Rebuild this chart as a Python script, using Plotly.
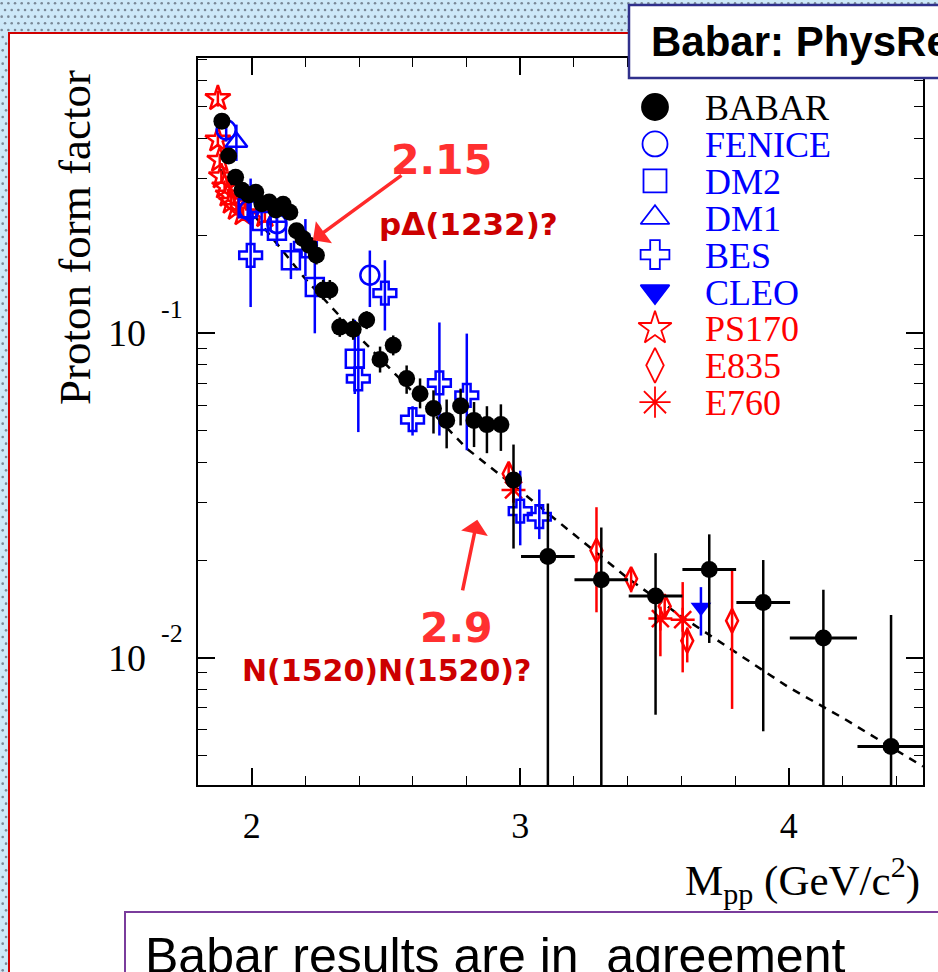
import numpy as np
import plotly.graph_objects as go

W, H = 938, 972

# ---------------- data: proton time-like form factor vs M(p pbar) ----------------
babar_m = [1.889, 1.914, 1.940, 1.964, 1.989, 2.015, 2.038, 2.065, 2.090, 2.117, 2.142, 2.167,
           2.191, 2.214, 2.241, 2.266, 2.291, 2.328, 2.378, 2.428, 2.478, 2.527, 2.577, 2.627,
           2.677, 2.726, 2.778, 2.828, 2.876, 2.928, 2.975, 3.103, 3.302, 3.504, 3.704, 3.905,
           4.129, 4.381]
babar_ff = [0.451, 0.352, 0.303, 0.276, 0.267, 0.272, 0.251, 0.254, 0.240, 0.250, 0.236, 0.207,
            0.196, 0.187, 0.174, 0.136, 0.136, 0.1045, 0.103, 0.110, 0.083, 0.0918, 0.0725, 0.0651,
            0.0586, 0.0539, 0.0597, 0.0539, 0.0523, 0.0523, 0.0353, 0.0205, 0.0174, 0.0155, 0.0187,
            0.0148, 0.0115, 0.00532]
babar_hi = [0.468, 0.365, 0.314, 0.286, 0.277, 0.283, 0.262, 0.265, 0.251, 0.262, 0.248, 0.218,
            0.207, 0.198, 0.185, 0.146, 0.146, 0.112, 0.111, 0.117, 0.091, 0.0985, 0.0796, 0.0726,
            0.0667, 0.0625, 0.0675, 0.0614, 0.0596, 0.0604, 0.0454, 0.0299, 0.0252, 0.0210, 0.0240,
            0.0200, 0.0162, 0.01355]
babar_lo = [0.435, 0.339, 0.292, 0.266, 0.257, 0.261, 0.240, 0.243, 0.229, 0.238, 0.224, 0.196,
            0.185, 0.176, 0.163, 0.127, 0.127, 0.0975, 0.0955, 0.103, 0.0757, 0.0855, 0.0651, 0.0587,
            0.0491, 0.0442, 0.0520, 0.0446, 0.0427, 0.0434, 0.0217, 0.0, 0.0, 0.00667, 0.0111,
            0.00593, 0.0, 0.0]
babar_halfbin = [0.0] * 31 + [0.1, 0.1, 0.1, 0.1, 0.1, 0.125, 0.125]

fenice_m = [1.905, 1.990, 2.094, 2.440]
fenice_ff = [0.424, 0.240, 0.218, 0.151]
fenice_hi = [0.460, 0.262, 0.240, 0.180]
fenice_lo = [0.390, 0.218, 0.196, 0.1205]

dm2_m = [1.985, 2.037, 2.094, 2.146, 2.235, 2.384]
dm2_ff = [0.243, 0.222, 0.207, 0.168, 0.139, 0.0835]
dm2_hi = [0.265, 0.243, 0.228, 0.190, 0.194, 0.110]
dm2_lo = [0.221, 0.200, 0.186, 0.147, 0.100, 0.065]

dm1_m = [1.943]
dm1_ff = [0.389]
dm1_hi = [0.440]
dm1_lo = [0.340]

bes_m = [1.996, 2.200, 2.397, 2.496, 2.599, 2.699, 2.801, 3.000, 3.071]
bes_ff = [0.174, 0.186, 0.0724, 0.133, 0.0542, 0.0703, 0.0644, 0.0283, 0.0272]
bes_hi = [0.300, 0.225, 0.100, 0.168, 0.0596, 0.108, 0.0998, 0.0377, 0.0330]
bes_lo = [0.1205, 0.150, 0.0496, 0.102, 0.0484, 0.0484, 0.0436, 0.0222, 0.0232]

cleo_m = [3.673]
cleo_ff = [0.0143]
cleo_hi = [0.0165]
cleo_lo = [0.0117]

ps170_m = [1.874, 1.874, 1.881, 1.887, 1.899, 1.912, 1.924, 1.943, 1.968, 2.049]
ps170_ff = [0.530, 0.395, 0.342, 0.304, 0.283, 0.267, 0.254, 0.243, 0.234, 0.231]
ps170_hi = [0.560, 0.415, 0.358, 0.318, 0.296, 0.279, 0.266, 0.255, 0.246, 0.243]
ps170_lo = [0.500, 0.375, 0.326, 0.290, 0.270, 0.255, 0.242, 0.231, 0.222, 0.219]

e835_m = [2.957, 3.284, 3.413, 3.538, 3.622, 3.789]
e835_ff = [0.0369, 0.0214, 0.0175, 0.0144, 0.01127, 0.0130]
e835_hi = [0.0395, 0.0291, 0.0188, 0.0153, 0.0124, 0.0188]
e835_lo = [0.0340, 0.0138, 0.0159, 0.0135, 0.00967, 0.00695]

e760_m = [2.975, 3.522, 3.605]
e760_ff = [0.0329, 0.0132, 0.0131]
e760_hi = [0.0360, 0.0143, 0.0171]
e760_lo = [0.0300, 0.0101, 0.00901]

# pQCD-type fit curve (dashed), sampled along the drawn line
fit_m = [1.88, 2.0, 2.2, 2.4, 2.6, 2.8, 3.0, 3.2, 3.4, 3.6, 3.8, 4.0, 4.2, 4.4, 4.5]
fit_ff = [0.322, 0.236, 0.147, 0.0975, 0.0659, 0.0442, 0.0327, 0.0240, 0.0176, 0.0134,
          0.0104, 0.0081, 0.00653, 0.00519, 0.00462]

legend_names = ["BABAR", "FENICE", "DM2", "DM1", "BES", "CLEO", "PS170", "E835", "E760"]

x_tick_labels = ["2", "3", "4"]
y_tick_exponents = ["-1", "-2"]

# ---------------- styling ----------------
BLUE = "#0000ff"
RED = "#ff0000"
BLACK = "#000000"
SERIF = "Liberation Serif"


def px(x):
    return x / W


def py(y):
    return 1 - y / H


def err(vals, hi, lo):
    plus = [h - v for v, h in zip(vals, hi)]
    minus = [v - l for v, l in zip(vals, lo)]
    return plus, minus


fig = go.Figure()

# dashed fit
fig.add_trace(go.Scatter(x=fit_m, y=fit_ff, mode="lines",
                         line=dict(color=BLACK, width=2.5, dash="8px,7px"),
                         hoverinfo="skip"))


def add_set(m, ff, hi, lo, symbol, color, size, lw=2.5, xerr=None):
    plus, minus = err(ff, hi, lo)
    kw = {}
    if xerr is not None:
        kw["error_x"] = dict(type="data", array=xerr, symmetric=True, color=color,
                             thickness=3, width=0)
    fig.add_trace(go.Scatter(
        x=m, y=ff, mode="markers",
        marker=dict(symbol=symbol, color=color, size=size, opacity=1,
                    line=dict(width=lw, color=color)),
        error_y=dict(type="data", array=plus, arrayminus=minus, symmetric=False,
                     color=color, thickness=2.5, width=0),
        **kw))


add_set(ps170_m, ps170_ff, ps170_hi, ps170_lo, "star-open", RED, 19)
add_set(e835_m, e835_ff, e835_hi, e835_lo, "diamond-tall-open", RED, 17)
add_set(e760_m, e760_ff, e760_hi, e760_lo, "asterisk-open", RED, 20)
add_set(fenice_m, fenice_ff, fenice_hi, fenice_lo, "circle-open", BLUE, 19)
add_set(dm2_m, dm2_ff, dm2_hi, dm2_lo, "square-open", BLUE, 18)
add_set(dm1_m, dm1_ff, dm1_hi, dm1_lo, "triangle-up-open", BLUE, 19)
add_set(bes_m, bes_ff, bes_hi, bes_lo, "cross-open", BLUE, 19)
add_set(cleo_m, cleo_ff, cleo_hi, cleo_lo, "triangle-down", BLUE, 18, lw=0)
add_set(babar_m, babar_ff, babar_hi, babar_lo, "circle", BLACK, 17, lw=0, xerr=babar_halfbin)

# ---------------- page decoration on a pixel-space overlay axis ----------------
step = 20 / 3
dot_x, dot_y = [], []
for r, yy in enumerate(np.arange(3.3, 33, step)):
    off = 0 if r % 2 == 0 else step / 2
    for xx in np.arange(1.7 + off, W, step):
        dot_x.append(xx)
        dot_y.append(yy)
for r, yy in enumerate(np.arange(37.0, H, step)):
    off = 0 if r % 2 == 0 else step / 2
    for xx in np.arange(2.7 + off, 8, step):
        dot_x.append(xx)
        dot_y.append(yy)
fig.add_trace(go.Scatter(x=dot_x, y=dot_y, mode="markers", xaxis="x2", yaxis="y2",
                         marker=dict(size=2.6, color="#7a8896", opacity=1), hoverinfo="skip",
                         cliponaxis=False))

# legend keys
leg_x0, leg_y0, leg_dy = 655, 107, 36.9
leg_sym = ["circle", "circle-open", "square-open", "triangle-up-open", "cross-open",
           "triangle-down", "star-open", "diamond-tall-open", "asterisk-open"]
leg_col = [BLACK, BLUE, BLUE, BLUE, BLUE, BLUE, RED, RED, RED]
leg_size = [26, 25, 23, 25, 24, 25, 25, 25, 26]
leg_rows = [leg_y0 + i * leg_dy for i in range(len(legend_names))]
fig.add_trace(go.Scatter(x=[leg_x0] * len(leg_rows), y=leg_rows, mode="markers",
                         xaxis="x2", yaxis="y2",
                         marker=dict(symbol=leg_sym, color=leg_col, size=leg_size, opacity=1,
                                     line=dict(width=1.8, color=leg_col)),
                         hoverinfo="skip", cliponaxis=False))

annotations = []
for name, col, yy in zip(legend_names, leg_col, leg_rows):
    annotations.append(dict(text=name, xref="paper", yref="paper", x=px(703), y=py(yy + 1),
                            xanchor="left", yanchor="middle", showarrow=False,
                            font=dict(family=SERIF, size=36, color=col)))

# y tick labels 10^-1, 10^-2
for e, lab in zip([-1, -2], y_tick_exponents):
    annotations.append(dict(text="10", xref="paper", yref="y", x=px(148), y=e,
                            xanchor="right", yanchor="middle", showarrow=False,
                            font=dict(family=SERIF, size=38, color=BLACK)))
    annotations.append(dict(text=lab, xref="paper", yref="y", x=px(159), y=e, yshift=24,
                            xanchor="left", yanchor="middle", showarrow=False,
                            font=dict(family=SERIF, size=26, color=BLACK)))

# axis titles
annotations.append(dict(text="Proton form factor", xref="paper", yref="paper",
                        x=px(75), y=py(238), textangle=-90, showarrow=False,
                        xanchor="center", yanchor="middle",
                        font=dict(family=SERIF, size=45, color=BLACK)))
annotations.append(dict(text="M<sub>pp</sub> (GeV/c<sup>2</sup>)", xref="paper", yref="paper",
                        x=px(922), y=py(880), showarrow=False,
                        xanchor="right", yanchor="middle",
                        font=dict(family=SERIF, size=43, color=BLACK)))

# resonance-threshold notes with arrows
annotations += [
    dict(text="<b>2.15</b>", xref="paper", yref="paper", x=px(441), y=py(160), showarrow=False,
         font=dict(family="DejaVu Sans", size=41, color="#ff3030"), xanchor="center", yanchor="middle"),
    dict(text="<b>pΔ(1232)?</b>", xref="paper", yref="paper", x=px(468), y=py(224), showarrow=False,
         font=dict(family="DejaVu Sans", size=31, color="#cc0000"), xanchor="center", yanchor="middle"),
    dict(text="<b>2.9</b>", xref="paper", yref="paper", x=px(456), y=py(628), showarrow=False,
         font=dict(family="DejaVu Sans", size=41, color="#ff3030"), xanchor="center", yanchor="middle"),
    dict(text="<b>N(1520)N(1520)?</b>", xref="paper", yref="paper", x=px(386), y=py(670),
         showarrow=False, font=dict(family="DejaVu Sans", size=30, color="#cc0000"),
         xanchor="center", yanchor="middle"),
    dict(text="", xref="x", yref="y", x=2.228, y=-0.713, ax=90, ay=-66,
         showarrow=True, arrowhead=1, arrowsize=1.3, arrowwidth=3.5, arrowcolor="#ff2a2a"),
    dict(text="", xref="x", yref="y", x=2.84, y=-1.575, ax=-15, ay=72,
         showarrow=True, arrowhead=1, arrowsize=1.3, arrowwidth=3.5, arrowcolor="#ff2a2a"),
]

# header and footer boxes text
annotations.append(dict(text="<b>Babar: PhysRev. D73, 012005 (2006)</b>", xref="paper", yref="paper",
                        x=px(649), y=py(42), showarrow=False, xanchor="left", yanchor="middle",
                        font=dict(family="Liberation Sans", size=42, color=BLACK)))
annotations.append(dict(text="Babar results are in  agreement", xref="paper", yref="paper",
                        x=px(143), y=py(956), showarrow=False, xanchor="left", yanchor="middle",
                        font=dict(family="Liberation Sans", size=50, color=BLACK)))

shapes = [
    dict(type="rect", xref="paper", yref="paper", x0=px(9), x1=1.05, y0=py(33), y1=-0.05,
         fillcolor="white", line=dict(color="#d00000", width=2), layer="below"),
    dict(type="rect", xref="paper", yref="paper", x0=px(629), x1=1.05, y0=py(5), y1=py(78),
         fillcolor="white", line=dict(color="#30308c", width=2.5), layer="above"),
    dict(type="rect", xref="paper", yref="paper", x0=px(125), x1=1.05, y0=py(912), y1=-0.05,
         fillcolor="white", line=dict(color="#7a3c9c", width=2), layer="above"),
]

y_minor = [k * 10.0 ** e for e in (-3, -2, -1) for k in range(2, 10)]

fig.update_layout(
    width=W, height=H, margin=dict(l=0, r=0, t=0, b=0),
    paper_bgcolor="#cde8f8", plot_bgcolor="rgba(0,0,0,0)", showlegend=False,
    xaxis=dict(domain=[px(198), px(923)], range=[1.8, 4.5], showgrid=False, zeroline=False,
               showline=True, linecolor=BLACK, linewidth=1.8, mirror="ticks",
               ticks="inside", ticklen=17, tickwidth=1.5, tickcolor=BLACK,
               tickmode="array", tickvals=[2, 3, 4], ticktext=x_tick_labels,
               tickfont=dict(family=SERIF, size=36, color=BLACK), ticklabelstandoff=8,
               minor=dict(ticks="inside", ticklen=9, tickwidth=1.2, tickcolor=BLACK,
                          dtick=0.2, tick0=1.8, showgrid=False)),
    yaxis=dict(domain=[py(785), py(58)], type="log",
               range=[np.log10(0.00405), np.log10(0.706)], showgrid=False, zeroline=False,
               showline=True, linecolor=BLACK, linewidth=1.8, mirror="ticks",
               ticks="inside", ticklen=17, tickwidth=1.5, tickcolor=BLACK,
               tickmode="array", tickvals=[0.01, 0.1], showticklabels=False,
               minor=dict(ticks="inside", ticklen=9, tickwidth=1.2, tickcolor=BLACK,
                          tickmode="array", tickvals=y_minor, showgrid=False)),
    xaxis2=dict(domain=[0, 1], range=[0, W], visible=False, anchor="y2", fixedrange=True),
    yaxis2=dict(domain=[0, 1], range=[H, 0], visible=False, anchor="x2", fixedrange=True),
    annotations=annotations,
    shapes=shapes,
)

fig.write_html("out.html")
